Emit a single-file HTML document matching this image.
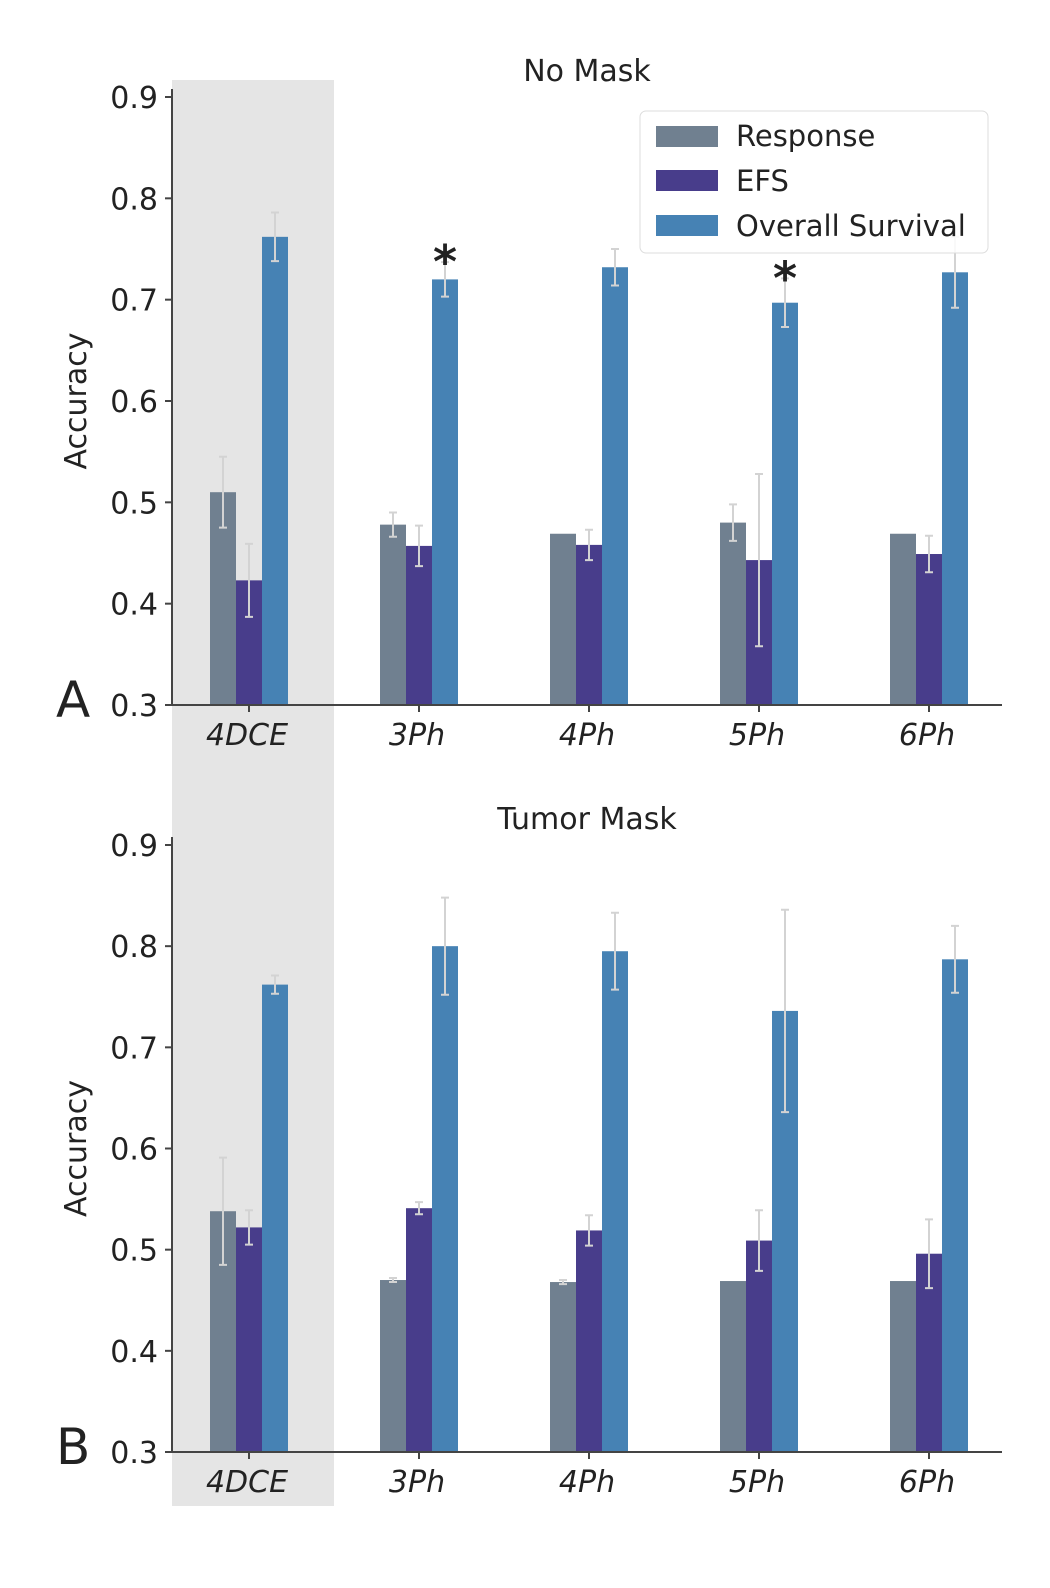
<!DOCTYPE html>
<html><head><meta charset="utf-8"><style>
html,body{margin:0;padding:0;background:#fff;}
svg text{font-family:"DejaVu Sans","Liberation Sans",sans-serif;fill:#222;}
</style></head><body>
<svg id="fig" width="1050" height="1583" viewBox="0 0 1050 1583" xmlns="http://www.w3.org/2000/svg">
<rect x="172" y="80" width="162" height="1426" fill="#e5e5e5"/>
<g id="legend">
<rect x="640" y="111" width="348" height="142" rx="6" fill="#fff" fill-opacity="0.85" stroke="#ddd"/>
<rect x="656" y="126" width="62" height="21" fill="#708090"/>
<text x="736" y="146" font-size="29">Response</text>
<rect x="656" y="170" width="62" height="21" fill="#483D8B"/>
<text x="736" y="191" font-size="29">EFS</text>
<rect x="656" y="215" width="62" height="21" fill="#4682B4"/>
<text x="736" y="236" font-size="29">Overall Survival</text>
</g>
</svg>
<script>
const categories=["4DCE","3Ph","4Ph","5Ph","6Ph"];
const seriesNames=["Response","EFS","Overall Survival"];
const topResponse=[0.51,0.478,0.469,0.48,0.469];
const topResponseErr=[0.035,0.012,0,0.018,0];
const topEFS=[0.423,0.457,0.458,0.443,0.449];
const topEFSErr=[0.036,0.02,0.015,0.085,0.018];
const topOS=[0.762,0.72,0.732,0.697,0.727];
const topOSErr=[0.024,0.017,0.018,0.024,0.035];
const botResponse=[0.538,0.47,0.468,0.469,0.469];
const botResponseErr=[0.053,0.002,0.002,0,0];
const botEFS=[0.522,0.541,0.519,0.509,0.496];
const botEFSErr=[0.017,0.006,0.015,0.03,0.034];
const botOS=[0.762,0.80,0.795,0.736,0.787];
const botOSErr=[0.009,0.048,0.038,0.1,0.033];
const yTicks=[0.3,0.4,0.5,0.6,0.7,0.8,0.9];
const topStars=[0,1,0,1,0];
const colors=["#708090","#483D8B","#4682B4"];
const NS="http://www.w3.org/2000/svg";
const svg=document.getElementById('fig');
const legend=document.getElementById('legend');
function el(t,a,p){const e=document.createElementNS(NS,t);for(const k in a)e.setAttribute(k,a[k]);if(p)p.appendChild(e);else svg.insertBefore(e,legend);return e;}
function panel(y09,y03,title,letter,series,errs,stars){
  const g=el('g',{});
  
  
  const ys=v=>y03+(v-0.3)/0.6*(y09-y03);
  const xs=i=>249+170*i;
  const bw=26;
  for(let s=0;s<3;s++){
    for(let i=0;i<categories.length;i++){
      const v=series[s][i],e=errs[s][i];
      const x=xs(i)+(s-1)*bw-bw/2;
      const r=el('rect',{x:x,y:ys(v),width:bw,height:y03-ys(v),fill:colors[s]},g);
      
      
      if(e>0){
        const cx=x+bw/2;
        const eb=el('path',{d:`M${cx},${ys(v+e)}V${ys(v-e)}M${cx-4},${ys(v+e)}H${cx+4}M${cx-4},${ys(v-e)}H${cx+4}`,stroke:'#d3d3d3','stroke-width':2,fill:'none'},g);
        
        
      }
      if(s==2&&stars&&stars[i]){
        const st=el('text',{x:xs(i)+bw,y:ys(v+e)+16,'font-size':46,'font-weight':'bold','text-anchor':'middle'},g);
        st.textContent='*';
        
        
      }
    }
  }
  const ax=el('path',{d:`M172,${y09-8}V${y03}H1002`,stroke:'#444','stroke-width':2,fill:'none'},g);
  
  
  yTicks.forEach(t=>{
    el('line',{x1:165,x2:172,y1:ys(t),y2:ys(t),stroke:'#444','stroke-width':2},g);
    const tx=el('text',{x:158,y:ys(t)+11,'font-size':30,'text-anchor':'end'},g);
    tx.textContent=t.toFixed(1);
    
    
  });
  categories.forEach((c,i)=>{
    el('line',{x1:xs(i),x2:xs(i),y1:y03,y2:y03+7,stroke:'#444','stroke-width':2},g);
    const tx=el('text',{x:xs(i)-2,y:y03+40,'font-size':30,'text-anchor':'middle','font-style':'italic'},g);
    tx.textContent=c;
    
    
  });
  const tt=el('text',{x:587,y:y09-16,'font-size':30,'text-anchor':'middle'},g);
  tt.textContent=title;
  
  
  const yl=el('text',{x:0,y:0,'font-size':30,'text-anchor':'middle',transform:`translate(86,${(y09+y03)/2}) rotate(-90)`},g);
  yl.textContent='Accuracy';
  
  
  const lt=el('text',{x:56,y:y03+12,'font-size':50},g);
  lt.textContent=letter;
  
  
}
panel(97,705,"No Mask","A",[topResponse,topEFS,topOS],[topResponseErr,topEFSErr,topOSErr],topStars);
panel(845,1452,"Tumor Mask","B",[botResponse,botEFS,botOS],[botResponseErr,botEFSErr,botOSErr],null);
</script>
</body></html>
